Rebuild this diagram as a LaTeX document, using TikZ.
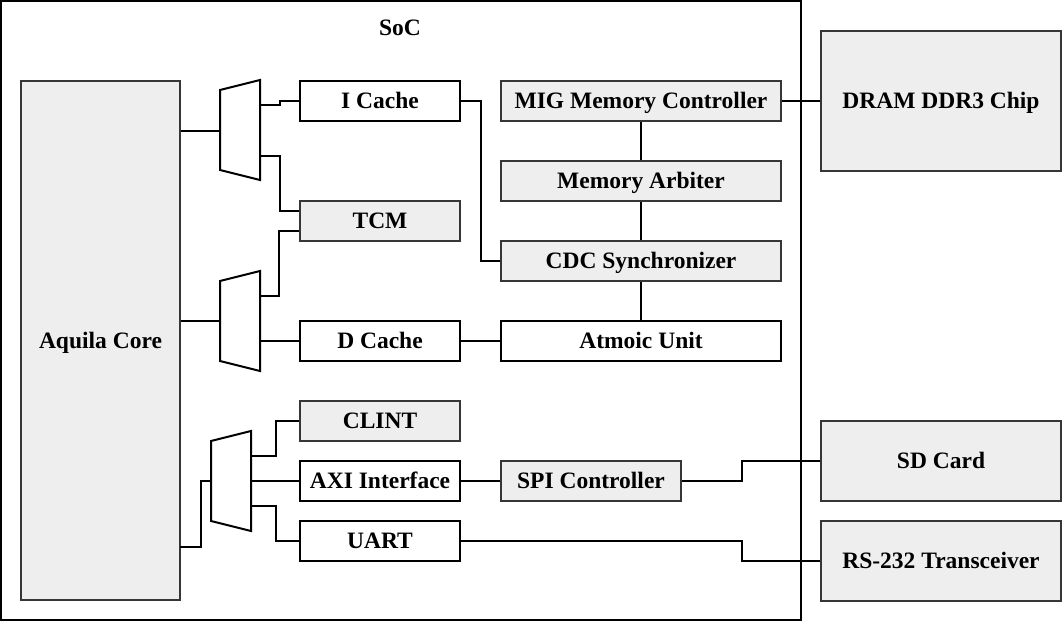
\documentclass[tikz,border=0pt]{standalone}
\usepackage{fontspec}
\setmainfont{Liberation Serif}
\definecolor{boxgray}{HTML}{EEEEEE}
\definecolor{edgegray}{HTML}{363636}
\begin{document}
\begin{tikzpicture}[x=1pt,y=-1pt,
  lbl/.style={font=\fontsize{23.5}{26}\selectfont\bfseries,text height=15.5pt,text depth=0pt},
  wbox/.style={draw=black,line width=2pt,fill=white,minimum width=#1,minimum height=40pt,inner sep=0pt,lbl},
  gbox/.style={draw=edgegray,line width=2pt,fill=boxgray,minimum width=#1,minimum height=40pt,inner sep=0pt,lbl},
  wire/.style={draw=black,line width=2pt},
  muxshape/.style={draw=black,line width=2pt,fill=white,line join=miter}]
\useasboundingbox (0,0) rectangle (1062,622);
% SoC frame
\draw[line width=2pt] (1,1) rectangle (801,620);
\node[lbl,inner sep=0pt] (soc) at (400,28) {SoC};
% Core
\node[gbox=159pt,minimum height=519pt] (aq) at (100.5,340.5) {Aquila Core};
% middle column
\node[wbox=160pt] (icache) at (380,101) {I Cache};
\node[gbox=160pt] (tcm) at (380,221) {TCM};
\node[wbox=160pt] (dcache) at (380,341) {D Cache};
\node[gbox=160pt] (clint) at (380,421) {CLINT};
\node[wbox=160pt] (axi) at (380,481) {AXI Interface};
\node[wbox=160pt] (uart) at (380,541) {UART};
% right column
\node[gbox=280pt] (mig) at (641,101) {MIG Memory Controller};
\node[gbox=280pt] (arb) at (641,181) {Memory Arbiter};
\node[gbox=280pt] (cdc) at (641,261) {CDC Synchronizer};
\node[wbox=280pt] (atom) at (641,341) {Atmoic Unit};
\node[gbox=180pt] (spi) at (591,481) {SPI Controller};
% external
\node[gbox=240pt,minimum height=140pt] (dram) at (941,101) {DRAM DDR3 Chip};
\node[gbox=240pt,minimum height=80pt] (sd) at (941,461) {SD Card};
\node[gbox=240pt,minimum height=80pt] (rs) at (941,561) {RS-232 Transceiver};
% muxes
\draw[muxshape] (220,90) -- (260,80) -- (260,180) -- (220,170) -- cycle;
\draw[muxshape] (220,281) -- (260,271) -- (260,371) -- (220,361) -- cycle;
\draw[muxshape] (211,441) -- (251,431) -- (251,531) -- (211,521) -- cycle;
\coordinate (m1in) at (220,131);
\coordinate (m1a) at (260,105);
\coordinate (m1b) at (260,156);
\coordinate (m2in) at (220,321);
\coordinate (m2a) at (260,296);
\coordinate (m2b) at (260,341);
\coordinate (m3in) at (211,481);
\coordinate (m3a) at (251,456);
\coordinate (m3b) at (251,481);
\coordinate (m3c) at (251,506);
\coordinate (aq3) at (180,547);
% wires
\draw[wire] (aq.east |- m1in) -- (m1in);
\draw[wire] (m1a) -- ++(20,0) |- (icache.west);
\draw[wire] (m1b) -- ++(20,0) |- ([yshift=10pt]tcm.west);
\draw[wire] ([yshift=-10pt]tcm.west) -- ++(-20,0) |- (m2a);
\draw[wire] (aq.east |- m2in) -- (m2in);
\draw[wire] (m2b) -- (dcache.west);
\draw[wire] (dcache.east) -- (atom.west);
\draw[wire] (icache.east) -- ++(20,0) |- (cdc.west);
\draw[wire] (mig.south) -- (arb.north);
\draw[wire] (arb.south) -- (cdc.north);
\draw[wire] (cdc.south) -- (atom.north);
\draw[wire] (mig.east) -- (dram.west);
\draw[wire] (aq3) -- ++(21,0) |- (m3in);
\draw[wire] (m3a) -- ++(25,0) |- (clint.west);
\draw[wire] (m3b) -- (axi.west);
\draw[wire] (m3c) -- ++(25,0) |- (uart.west);
\draw[wire] (axi.east) -- (spi.west);
\draw[wire] (spi.east) -- ++(60,0) |- (sd.west);
\draw[wire] (uart.east) -- ++(281,0) |- (rs.west);
\end{tikzpicture}
\end{document}
